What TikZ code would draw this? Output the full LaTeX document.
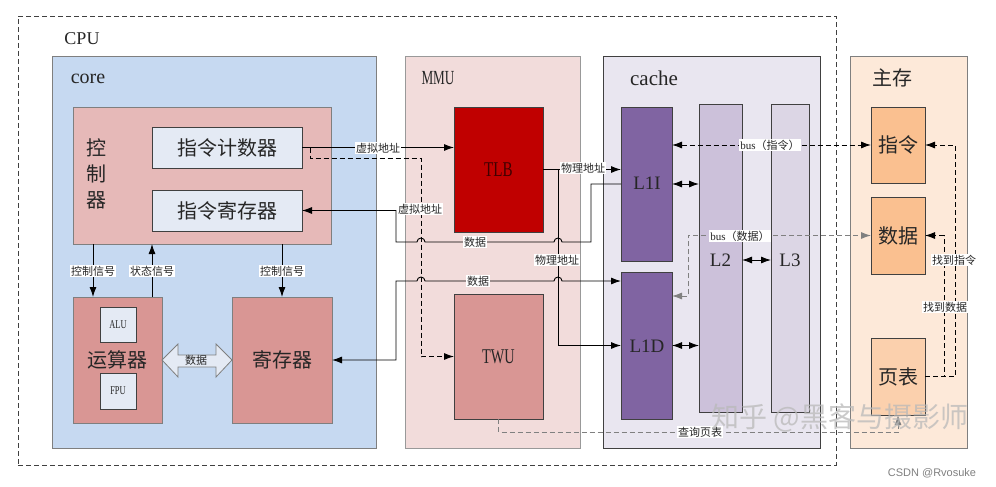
\documentclass[tikz,border=0pt]{standalone}
\usepackage{fontspec}
\usepackage{graphicx}
\setmainfont{Liberation Serif}
\newfontfamily\cjk{Noto Sans CJK SC}
\newfontfamily\wsans{Liberation Sans}
\usetikzlibrary{arrows.meta,calc}
\definecolor{bordergray}{HTML}{7F7F7F}
\definecolor{darkline}{HTML}{404040}
\definecolor{corefill}{HTML}{C6D9F1}
\definecolor{ctrlfill}{HTML}{E6B9B8}
\definecolor{lightbox}{HTML}{E4EAF4}
\definecolor{redbox}{HTML}{D99694}
\definecolor{mmufill}{HTML}{F2DCDB}
\definecolor{tlbfill}{HTML}{C00000}
\definecolor{cachefill}{HTML}{E9E6F0}
\definecolor{lonefill}{HTML}{8064A2}
\definecolor{ltwofill}{HTML}{CCC1DA}
\definecolor{lthreefill}{HTML}{DCD6E5}
\definecolor{memfill}{HTML}{FDE9D9}
\definecolor{orangebox}{HTML}{FAC090}
\definecolor{txt}{HTML}{262626}
\newcommand{\narrow}[2]{\scalebox{#1}[1]{#2}}
\begin{document}
\begin{tikzpicture}[x=1pt,y=-1pt,
  every node/.style={inner sep=0pt, outer sep=0pt},
  blk/.style={draw=bordergray, line width=0.9pt, rectangle, anchor=north west},
  lbl/.style={font=\cjk\fontsize{11}{11}\selectfont, fill=white, inner sep=1.2pt, text=txt},
  bigtxt/.style={font=\cjk\fontsize{20}{24}\selectfont, text=txt},
  ttl/.style={font=\fontsize{19}{22}\selectfont, text=txt},
  conn/.style={line width=0.9pt, draw=black},
  arr/.style={conn, -{Latex[length=10pt,width=7pt]}},
  larr/.style={conn, {Latex[length=10pt,width=7pt]}-},
  darr/.style={conn, {Latex[length=10pt,width=7pt]}-{Latex[length=10pt,width=7pt]}},
  dsh/.style={dash pattern=on 5pt off 3pt},
]
\useasboundingbox[fill=white] (0,0) rectangle (996,487);

% CPU frame
\node[draw=darkline, dash pattern=on 5pt off 3pt, line width=0.8pt, rectangle, anchor=north west,
      minimum width=818pt, minimum height=449pt] (cpu) at (18,16) {};
\node[ttl, font=\fontsize{18}{20}\selectfont] (cpulbl) at (82,39) {CPU};

% core
\node[blk, fill=corefill, minimum width=324pt, minimum height=392pt] (core) at (52,56) {};
\node[ttl, font=\fontsize{20}{22}\selectfont] (corelbl) at (88,79) {core};

\node[blk, fill=ctrlfill, minimum width=258pt, minimum height=137pt] (ctrl) at (73,107) {};
\node[bigtxt, align=center, font=\cjk\fontsize{20}{26}\selectfont] (ctrllbl) at (96,174) {控\\制\\器};
\node[blk, draw=darkline, fill=lightbox, minimum width=150pt, minimum height=41pt] (pc) at (152,127) {};
\node[bigtxt] (pclbl) at (pc.center) {指令计数器};
\node[blk, draw=darkline, fill=lightbox, minimum width=150pt, minimum height=41pt] (ir) at (152,190) {};
\node[bigtxt] (irlbl) at (ir.center) {指令寄存器};

\node[blk, fill=redbox, minimum width=89pt, minimum height=126pt] (alu_unit) at (73,297) {};
\node[blk, draw=darkline, fill=lightbox, minimum width=36pt, minimum height=35pt] (alu) at (100,307) {};
\node[font=\fontsize{12}{12}\selectfont, text=txt] (alulbl) at (alu.center) {\narrow{0.7}{ALU}};
\node[blk, draw=darkline, fill=lightbox, minimum width=36pt, minimum height=36pt] (fpu) at (100,373) {};
\node[font=\fontsize{12}{12}\selectfont, text=txt] (fpulbl) at (fpu.center) {\narrow{0.7}{FPU}};
\node[bigtxt] (aulbl) at (117.5,360) {运算器};

\node[blk, fill=redbox, minimum width=100pt, minimum height=126pt] (reg) at (232,297) {};
\node[bigtxt] (reglbl) at (reg.center) {寄存器};

% data block arrow
\draw[draw=bordergray, fill=lightbox, line width=0.8pt]
  (162,360) -- (178,344) -- (178,355) -- (216,355) -- (216,344) -- (232,360)
  -- (216,377) -- (216,367) -- (178,367) -- (178,377) -- cycle;
\node[font=\cjk\fontsize{11}{11}\selectfont, text=txt] (dblbl) at (196,360) {数据};

% control arrows
\draw[arr] ([xshift=20pt]ctrl.south west) -- ([xshift=20pt]alu_unit.north west);
\draw[arr] ([xshift=-10pt]alu_unit.north east) -- ([xshift=-10pt]alu_unit.north east |- ctrl.south);
\draw[arr] (reg.north |- ctrl.south) -- (reg.north);
\node[lbl] (c1) at (93,271) {控制信号};
\node[lbl] (c2) at (152,271) {状态信号};
\node[lbl] (c3) at (282,271) {控制信号};

% MMU
\node[blk, draw=bordergray!80, fill=mmufill, minimum width=175pt, minimum height=392pt] (mmu) at (405,56) {};
\node[ttl, font=\fontsize{20}{22}\selectfont] (mmulbl) at (438,78) {\narrow{0.66}{MMU}};
\node[blk, draw=darkline, fill=tlbfill, minimum width=89pt, minimum height=125pt] (tlb) at (454,107) {};
\node[font=\fontsize{21}{22}\selectfont, text=black!75!red] (tlblbl) at (tlb.center) {\narrow{0.72}{TLB}};
\node[blk, draw=darkline, fill=redbox, minimum width=89pt, minimum height=125pt] (twu) at (454,294) {};
\node[font=\fontsize{21}{22}\selectfont, text=txt] (twulbl) at (twu.center) {\narrow{0.68}{TWU}};

% cache
\node[blk, draw=darkline, fill=cachefill, minimum width=217pt, minimum height=392pt] (cache) at (603,56) {};
\node[ttl, font=\fontsize{21}{22}\selectfont] (cachelbl) at (654,78) {cache};
\node[blk, draw=darkline, fill=lonefill, minimum width=51pt, minimum height=154pt] (l1i) at (621,107) {};
\node[font=\fontsize{19}{20}\selectfont, text=black!85] (l1ilbl) at (647,183) {L1I};
\node[blk, draw=darkline, fill=lonefill, minimum width=51pt, minimum height=147pt] (l1d) at (621,272) {};
\node[font=\fontsize{19}{20}\selectfont, text=black!85] (l1dlbl) at (647,346) {L1D};
\node[blk, draw=darkline, fill=ltwofill, minimum width=43pt, minimum height=308pt] (l2) at (699,104) {};
\node[font=\fontsize{19}{20}\selectfont, text=txt] (l2lbl) at (720.5,260) {L2};
\node[blk, draw=darkline, fill=lthreefill, minimum width=38pt, minimum height=308pt] (l3) at (771,104) {};
\node[font=\fontsize{19}{20}\selectfont, text=txt] (l3lbl) at (790,260) {L3};

% main memory
\node[blk, fill=memfill, minimum width=117pt, minimum height=392pt] (mem) at (850,56) {};
\node[bigtxt] (memlbl) at (892,78) {主存};
\node[blk, draw=darkline, fill=orangebox, minimum width=54pt, minimum height=76pt] (ins) at (871,107) {};
\node[bigtxt] (inslbl) at (ins.center) {指令};
\node[blk, draw=darkline, fill=orangebox, minimum width=54pt, minimum height=77pt] (dat) at (871,197) {};
\node[bigtxt] (datlbl) at (dat.center) {数据};
\node[blk, draw=darkline, fill=orangebox!60!memfill, minimum width=54pt, minimum height=77pt] (pt) at (871,338) {};
\node[bigtxt] (ptlbl) at (pt.center) {页表};

% PC -> TLB
\draw[arr] (pc.east) -- (tlb.west |- pc.east);
\node[lbl] (va1) at (378,148) {虚拟地址};
% dashed PC -> TWU
\coordinate (d0) at (310,147.5);
\draw[conn, dsh, -{Latex[length=10pt,width=7pt]}] (d0) -- (310,158) -- (421,158) |- (twu.west);

% L1I -> IR
\draw[larr] (ir.east) -| (396,242) -- (417,242) arc(180:360:4) -- (554,242) arc(180:360:4) -- (591,242) |- (l1i.west);
\node[lbl] (va2) at (420,209) {虚拟地址};
\node[lbl] (dt1) at (475,242) {数据};

% reg <-> L1D
\draw[darr] (reg.east) -| (396,281) -- (417,281) arc(180:360:4) -- (554,281) arc(180:360:4) -- ([yshift=-9pt]l1d.north west);
\node[lbl] (dt2) at (478,281) {数据};

% TLB -> L1I, L1D
\draw[arr] (tlb.east) -- (l1i.west |- tlb.east);
\coordinate (pa) at ($(tlb.east)+(15,0)$);
\draw[arr] (pa) |- (l1d.west);
\node[lbl] (pa1) at (583,168) {物理地址};
\node[lbl] (pa2) at (557,260) {物理地址};

% cache internal
\draw[darr] (l1i.east) -- (l2.west |- l1i.east);
\draw[darr] (l1d.east) -- (l2.west |- l1d.east);
\draw[darr] ([yshift=-2pt]l2.east) -- ([yshift=-2pt]l3.west);

% buses
\draw[darr, dsh] (l1i.east |- ins.west) -- (ins.west);
\node[lbl] (bus1) at (770,145) {\rmfamily bus\cjk（指令）};
\draw[darr, dsh, draw=gray] ([yshift=-24pt]l1d.north east) -| (688,235.5) -- (dat.west);
\node[lbl] (bus2) at (740,236) {\rmfamily bus\cjk（数据）};

% page table
\draw[arr, dsh] (pt.east) -- (955,376.5) |- (ins.east);
\draw[arr, dsh] (pt.east) -- (944,376.5) |- (dat.east);
\node[lbl] (f1) at (954,260) {找到指令};
\node[lbl] (f2) at (945,307) {找到数据};

% TWU -> page table
\draw[arr, dsh, draw=gray] (twu.south) |- ($(pt.south)+(0,17)$) -- (pt.south);
\node[lbl] (q1) at (700,432) {查询页表};

% watermarks
\node[font=\cjk\fontsize{28}{28}\selectfont, text=gray!55, opacity=0.75] (wm) at (840,418) {知乎 @黑客与摄影师};
\node[font=\wsans\fontsize{11}{11}\selectfont, text=gray] (wm2) at (932,473) {CSDN @Rvosuke};
\end{tikzpicture}
\end{document}
